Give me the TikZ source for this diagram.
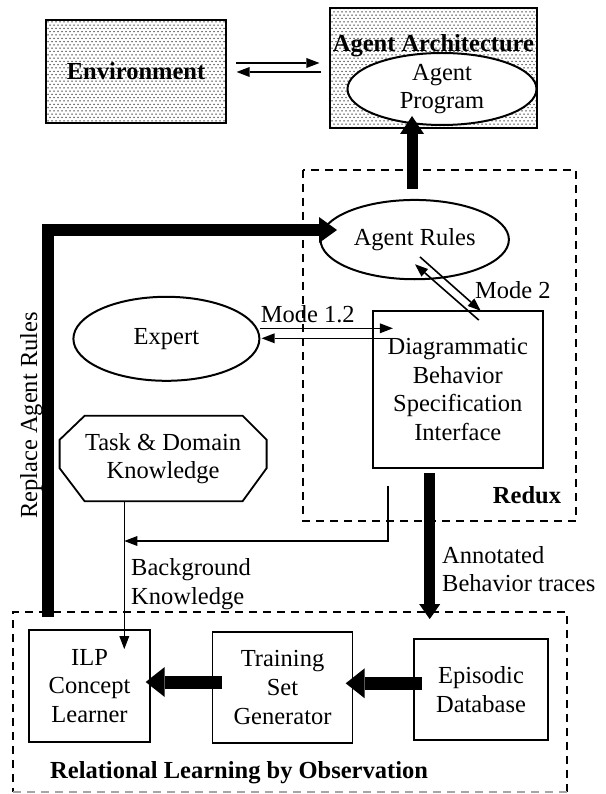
\documentclass[tikz,border=0pt]{standalone}
\usepackage{fontspec}
\setmainfont{Liberation Serif}
\usetikzlibrary{arrows.meta,shapes.geometric,patterns,calc}
\pgfdeclarepatternformonly{stipple}{\pgfqpoint{-0.9pt}{-0.9pt}}{\pgfqpoint{2.9pt}{4.2pt}}{\pgfqpoint{4pt}{6.6pt}}{%
  \pgfpathcircle{\pgfqpoint{0pt}{0pt}}{0.75pt}%
  \pgfpathcircle{\pgfqpoint{2pt}{3.3pt}}{0.75pt}%
  \pgfusepath{fill}}
\tikzset{
  every node/.style={font=\fontsize{24.5}{28.5}\selectfont, inner sep=0pt},
  bold/.style={font=\fontsize{24.5}{28.5}\selectfont\bfseries},
  dotbox/.style={draw, line width=2.2pt, pattern=stipple, pattern color=black!85},
  rbox/.style={draw, line width=1.8pt, align=center},
  oval/.style={ellipse, draw, line width=2pt, fill=white, align=center},
  dashbox/.style={line width=1.8pt, dash pattern=on 8pt off 6pt},
  thinarrow/.style={line width=1.6pt, -{Triangle[length=13pt,width=10pt,line width=0pt]}},
  fatarrow/.style={line width=#1, line join=miter, line cap=butt},
  lbl/.style={align=left}
}
\begin{document}
\begin{tikzpicture}[x=1pt,y=-1pt]
\useasboundingbox (0,0) rectangle (605,794);

% dashed frames
\draw[dashbox] (303,170) rectangle (576,521);
\draw[dashbox] (567,792) -- (567,612) -- (13,612) -- (13,792);
\draw[dashbox, black!35] (13,792) -- (567,792);

% nodes
\node[dotbox, minimum width=180pt, minimum height=103pt, bold] (env) at (136,71.5) {Environment};
\node[dotbox, minimum width=206.7pt, minimum height=120pt] (arch) at (433.4,68) {};
\node[oval, minimum width=189pt, minimum height=72pt] (ap) at (442,89) {Agent\\Program};
\node[bold, anchor=base] (archt) at (433.4,52) {Agent Architecture};

\node[oval, minimum width=188.4pt, minimum height=79.3pt] (ar) at (414.7,239.6) {Agent Rules};
\node[oval, minimum width=186pt, minimum height=84pt] (expert) at (166.4,338.8) {Expert};
\node[rbox, minimum width=170.4pt, minimum height=157pt] (dbsi) at (457.8,389.5) {Diagrammatic\\Behavior\\Specification\\Interface};

\node[minimum width=206.6pt, minimum height=85pt, align=center] (tdk) at (163.1,458.5) {Task \& Domain\\Knowledge};
\draw[line width=1.8pt]
  ([xshift=25pt]tdk.north west) -- ([xshift=-24pt]tdk.north east)
  -- ([yshift=-24pt]tdk.north east) -- ([yshift=33pt]tdk.south east)
  -- ([xshift=-24pt]tdk.south east) -- ([xshift=25pt]tdk.south west)
  -- ([yshift=33pt]tdk.south west) -- ([yshift=-24pt]tdk.north west) -- cycle;

\node[rbox, minimum width=121pt, minimum height=112pt] (ilp) at (89.5,686) {ILP\\Concept\\Learner};
\node[rbox, minimum width=140pt, minimum height=111pt] (tsg) at (282.5,687.5) {Training\\Set\\Generator};
\node[rbox, minimum width=134.4pt, minimum height=101pt] (edb) at (481,689.5) {Episodic\\Database};

% labels
\node[bold, anchor=base] (reduxl) at (527,503) {Redux};
\node[bold, anchor=base west] (rlol) at (50,778) {Relational Learning by Observation};
\node[anchor=base west] (m12) at (260.6,322) {Mode 1.2};
\node[anchor=base west] (m2) at (475,298) {Mode 2};
\node[lbl, anchor=west] (bgk) at (131,584) {Background\\Knowledge};
\node[lbl, anchor=west] (abt) at (442,569) {Annotated\\Behavior traces};
\node[rotate=90, anchor=base] (rar) at (37,415.5) {Replace Agent Rules};

% environment <-> architecture
\draw[thinarrow] ($(env.east)+(8.7,-8.5)$) -- ($(arch.west)+(-9.5,-5)$);
\draw[thinarrow] ($(arch.west)+(-7.6,4)$) -- ($(env.east)+(9.5,0.5)$);

% agent rules -> agent program
\draw[fatarrow=11pt, -{Triangle[length=18pt,width=24pt,line width=0pt]}] ($(ar.north)+(-2.7,-10)$) -- ($(ap.south)+(-30,-10)$);

% replace agent rules
\coordinate (rs) at (48,617);
\coordinate (rc) at (48,230);
\draw[fatarrow=11.5pt, -{Triangle[length=18pt,width=26pt,line width=0pt]}] (rs) -- (rc) -- ($(ar.west)+(17.5,-9.6)$);

% mode 2
\draw[thinarrow] ($(ar.south)+(5.3,-23.3)$) -- ($(dbsi.north)+(22.9,0.7)$);
\draw[thinarrow] ($(dbsi.north)+(21,10)$) -- ($(ar.south)+(0.3,-16)$);

% mode 1.2
\draw[thinarrow] ($(expert.east)+(0,-10.5)$) -- ($(dbsi.west)+(21.2,-61.2)$);
\draw[thinarrow] ($(dbsi.west)+(22,-51.2)$) -- ($(expert.east)+(1.2,-0.5)$);

% task & domain -> ILP, background knowledge feed
\draw[thinarrow] ($(tdk.south)+(-38.8,0)$) -- ($(ilp.north)+(34.8,20)$);
\coordinate (bk) at (124.3,541);
\draw[thinarrow] ($(dbsi.south)+(-69.8,17)$) |- (bk);

% annotated behavior traces
\draw[fatarrow=11pt, -{Triangle[length=15pt,width=21pt,line width=0pt]}] ($(dbsi.south)+(-28.1,4)$) -- ($(edb.north)+(-51.3,-19)$);

% episodic -> training -> ILP
\draw[fatarrow=13pt, -{Triangle[length=19pt,width=30pt,line width=0pt]}] ($(edb.west)+(9,-6.2)$) -- ($(tsg.east)+(-7.7,-4.2)$);
\draw[fatarrow=13pt, -{Triangle[length=19pt,width=30pt,line width=0pt]}] ($(tsg.west)+(10.5,-5.5)$) -- ($(ilp.east)+(-5.2,-4)$);
\end{tikzpicture}
\end{document}
